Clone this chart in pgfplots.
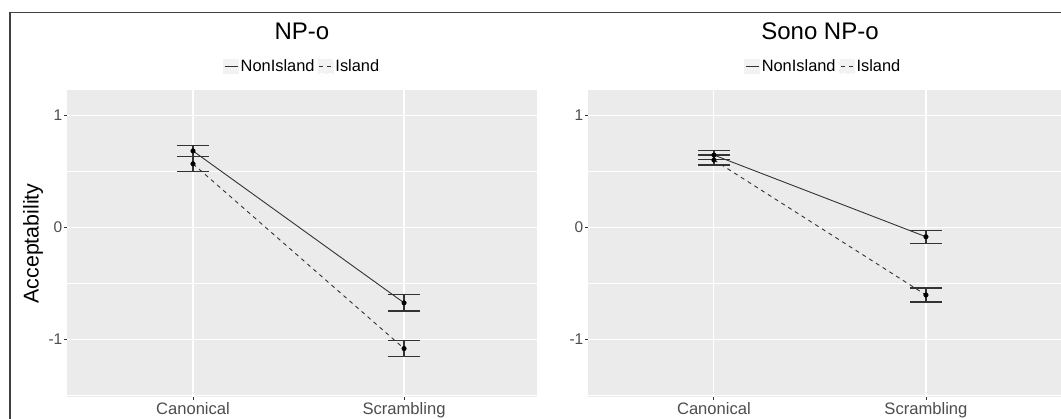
\documentclass[border=0pt]{standalone}
\usepackage{fontspec}
\setmainfont{Liberation Sans}
\usepackage{pgfplots}
\pgfplotsset{compat=1.18}
\usepackage{pgfplotstable}

\definecolor{ggbg}{HTML}{EBEBEB}
\definecolor{ggkey}{HTML}{F2F2F2}
\definecolor{ggtick}{HTML}{4D4D4D}
\definecolor{ggdark}{HTML}{333333}

% panel 1: NP-o
\pgfplotstableread{
x y err
1 0.681 0.047
2 -0.673 0.072
}\pAnon
\pgfplotstableread{
x y err
1 0.566 0.066
2 -1.080 0.068
}\pAisl
% panel 2: Sono NP-o
\pgfplotstableread{
x y err
1 0.644 0.042
2 -0.084 0.057
}\pBnon
\pgfplotstableread{
x y err
1 0.600 0.045
2 -0.603 0.062
}\pBisl

\pgfplotsset{
  ggpanel/.style={
    scale only axis,
    height=307pt,
    ymin=-1.512, ymax=1.224,
    axis background/.style={fill=ggbg},
    axis line style={draw=none},
    xtick={1,2},
    xticklabels={Canonical,Scrambling},
    ytick={-1,0,1},
    yticklabels={-1,0,1},
    minor ytick={-1.5,-0.5,0.5},
    xmajorgrids, ymajorgrids, yminorgrids,
    major grid style={white, line width=1.1pt},
    minor grid style={white, line width=0.55pt},
    tick align=outside,
    tick pos=left,
    major tick length=3pt,
    minor tick length=0pt,
    tick style={ggdark, line width=0.9pt},
    yticklabel style={font=\fontsize{15.5}{18}\selectfont, text=ggtick, inner sep=1.5pt},
    xticklabel style={font=\fontsize{16.6}{19}\selectfont, text=ggtick, inner sep=2.5pt},
    title style={font=\fontsize{24}{28}\selectfont, anchor=center, yshift=53pt},
    legend style={draw=none, fill=none, anchor=center,
      font=\fontsize{16.4}{19}\selectfont, legend columns=2,
      inner sep=0pt,
      nodes={inner sep=1.5pt},
      /tikz/every even column/.append style={column sep=2pt}},
    legend cell align=left,
    legend image code/.code={
      \fill[ggkey] (0pt,-7pt) rectangle (15pt,7pt);
      \draw[#1] (1pt,0pt) -- (14pt,0pt);
    },
  },
  meanline/.style={ggdark, line width=0.9pt, forget plot},
  errpts/.style={black, only marks, mark=*, mark size=2.3pt, forget plot,
    error bars/.cd, y dir=both, y explicit,
    error mark=|,
    error bar style={line width=1.2pt, ggdark},
    error mark options={line width=1.2pt, mark size=16pt, ggdark}},
}

\begin{document}
\begin{tikzpicture}
\useasboundingbox (0pt,0pt) rectangle (1061pt,419pt);

\begin{axis}[ggpanel,
  at={(67pt,22pt)}, anchor=south west,
  width=470pt,
  xmin=0.403, xmax=2.630,
  title={NP-o},
  title style={at={(axis description cs:0.5,1)}},
  legend style={at={(axis description cs:0.5,1.078)}},
  ylabel={Acceptability},
  every axis y label/.style={at={(axis description cs:-0.0723,0.5)}, rotate=90, anchor=center, font=\fontsize{21.4}{24}\selectfont},
]
\addplot[meanline] table[x=x,y=y] {\pAnon};
\addplot[meanline, dash pattern=on 4pt off 4pt] table[x=x,y=y] {\pAisl};
\addplot[errpts] table[x=x,y=y,y error=err] {\pAnon};
\addplot[errpts] table[x=x,y=y,y error=err] {\pAisl};
\addlegendimage{ggdark, line width=0.9pt}
\addlegendentry{NonIsland}
\addlegendimage{ggdark, line width=0.9pt, dash pattern=on 4pt off 4pt}
\addlegendentry{Island}
\end{axis}

\begin{axis}[ggpanel,
  at={(588pt,22pt)}, anchor=south west,
  width=473pt,
  xmin=0.406, xmax=2.637,
  title={Sono NP-o},
  title style={at={(axis description cs:0.4905,1)}},
  legend style={at={(axis description cs:0.497,1.078)}},
]
\addplot[meanline] table[x=x,y=y] {\pBnon};
\addplot[meanline, dash pattern=on 4pt off 4pt] table[x=x,y=y] {\pBisl};
\addplot[errpts] table[x=x,y=y,y error=err] {\pBnon};
\addplot[errpts] table[x=x,y=y,y error=err] {\pBisl};
\addlegendimage{ggdark, line width=0.9pt}
\addlegendentry{NonIsland}
\addlegendimage{ggdark, line width=0.9pt, dash pattern=on 4pt off 4pt}
\addlegendentry{Island}
\end{axis}

\draw[line width=1.3pt, black!75] (10pt,0pt) -- (10pt,406.5pt) -- (1061pt,406.5pt);
\end{tikzpicture}
\end{document}
